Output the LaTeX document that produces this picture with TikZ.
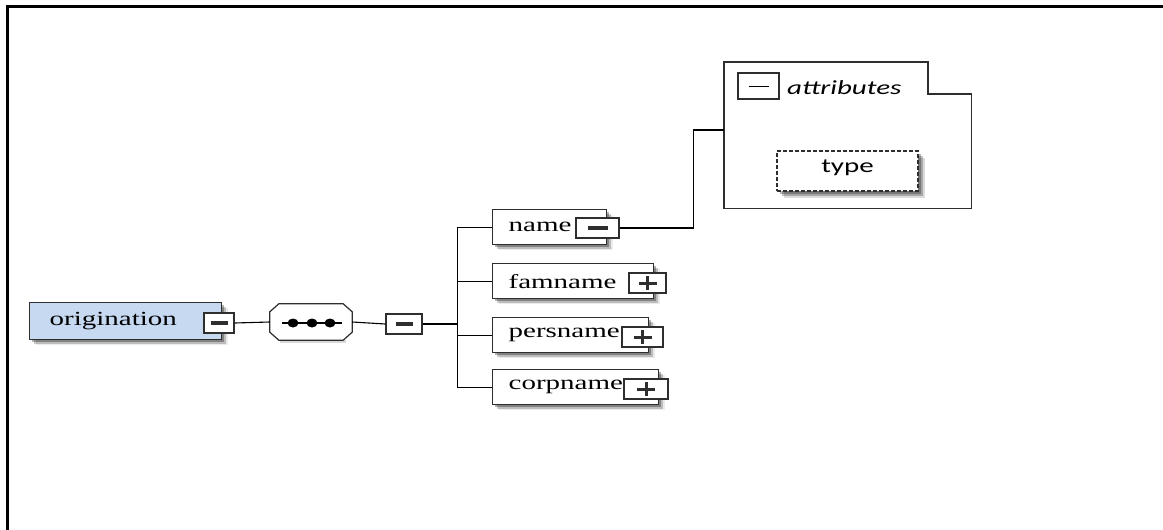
\documentclass[tikz,border=0pt]{standalone}
\usepackage{fontspec}
\setmainfont{Liberation Serif}
\newfontfamily\carlito{Carlito}
\usetikzlibrary{shadows,calc}

\definecolor{rootblue}{HTML}{C6D9F1}
\definecolor{edgegray}{HTML}{2E2E2E}

% schema labels are set slightly widened
\newcommand\wide[1]{\scalebox{1.45}[1]{#1}}

\tikzset{
  softshadow/.style={
    drop shadow={shadow xshift=2pt,shadow yshift=-2pt,opacity=.30,fill=black},
    drop shadow={shadow xshift=4pt,shadow yshift=-4pt,opacity=.20,fill=black},
    drop shadow={shadow xshift=6pt,shadow yshift=-5pt,opacity=.08,fill=black}},
  elem/.style={rectangle, draw=edgegray, line width=1.3pt, fill=white,
    anchor=north west, minimum height=35pt, inner xsep=16pt, inner ysep=0pt,
    align=left, font=\fontsize{20}{24}\selectfont, softshadow},
  ctrl/.style={rectangle, draw=edgegray, line width=1.3pt, fill=white,
    minimum height=20pt, inner sep=0pt},
  minusbox/.style={ctrl, path picture={
    \draw[line width=3.2pt]
      ([xshift=-#1]path picture bounding box.center) --
      ([xshift=#1]path picture bounding box.center);}},
  plusbox/.style={ctrl, path picture={
    \draw[line width=3pt]
      ([xshift=-9pt]path picture bounding box.center) --
      ([xshift=9pt]path picture bounding box.center)
      ([yshift=-7pt]path picture bounding box.center) --
      ([yshift=7pt]path picture bounding box.center);}},
  wire/.style={draw=black, line width=1.1pt},
  grp/.style={draw=edgegray, line width=1.2pt},
}

\begin{document}
\begin{tikzpicture}[x=1pt,y=-1pt]
\useasboundingbox (0,0) rectangle (1163,530);
\fill[white] (0,0) rectangle (1163,530);

% page frame (top and left edges)
\draw[line width=2.6pt] (7.5,530) -- (7.5,6.5) -- (1163,6.5);

% root element
\node[elem, fill=rootblue, text width=152pt, inner xsep=20pt, minimum height=37pt]
  (orig) at (29,302) {\wide{origination}};
\node[minusbox=8.5pt, minimum width=30pt] (origctl) at (219,323) {};

% sequence compositor
\node[rectangle, minimum width=82pt, minimum height=36pt, inner sep=0pt]
  (seq) at (311,322) {};
\fill[black, opacity=.15]
  ($(seq.south west)+(10,3)$) -- ($(seq.south east)+(-6,3)$) --
  ($(seq.south east)+(-6,0)$) -- ($(seq.south west)+(10,0)$) -- cycle;
\draw[grp, fill=white]
  ($(seq.north west)+(9,0)$) -- ($(seq.north east)+(-9,0)$) --
  ($(seq.north east)+(0,8)$) -- ($(seq.south east)+(0,-8)$) --
  ($(seq.south east)+(-9,0)$) -- ($(seq.south west)+(9,0)$) --
  ($(seq.south west)+(0,-8)$) -- ($(seq.north west)+(0,8)$) -- cycle;
\draw[line width=1.1pt] ($(seq.center)+(-29,1)$) -- ($(seq.center)+(31,1)$);
\foreach \dx in {-18,1,19}
  \fill ($(seq.center)+(\dx,1)$) ellipse [x radius=5.5pt, y radius=4.5pt];
\node[minusbox=8.5pt, minimum width=36pt] (seqctl) at (404,324) {};

% child elements
\node[elem, text width=82pt, minimum height=35pt] (name) at (492,209) {\wide{name}};
\node[minusbox=10pt, minimum width=43pt] (namectl) at (597.5,228) {};

\node[elem, text width=129pt] (famname) at (492,263) {\wide{famname}};
\node[plusbox, minimum width=37pt] (famctl) at (647.5,283) {};

\node[elem, text width=124pt] (persname) at (492,317) {\wide{persname}};
\node[plusbox, minimum width=41pt] (persctl) at (642.5,337) {};

\node[elem, text width=134pt] (corpname) at (492,369) {\wide{corpname}};
\node[plusbox, minimum width=44pt] (corpctl) at (646,389) {};

% attribute group
\node[rectangle, inner sep=0pt, minimum width=247pt, minimum height=146pt,
  anchor=north west] (attr) at (724,62) {};
\draw[grp]
  (attr.north west) -- ++(204,0) -- ++(0,32) --
  ($(attr.north east)+(0,32)$) -- (attr.south east) --
  (attr.south west) -- cycle;
\node[rectangle, draw=edgegray, line width=1.2pt, minimum width=41pt,
  minimum height=26pt, inner sep=0pt] (attrctl) at (758.5,86) {};
\draw[line width=0.8pt] ($(attrctl.center)+(-10,0)$) -- ($(attrctl.center)+(10,0)$);
\node[anchor=base west, inner sep=0pt, font=\carlito\itshape\fontsize{20}{24}\selectfont]
  (attrlabel) at (787,94) {\wide{attributes}};

\node[rectangle, draw=edgegray, dash pattern=on 4pt off 2pt, line width=1.1pt,
  fill=white, minimum width=141pt, minimum height=40pt, inner sep=0pt,
  text height=12pt, text depth=10pt,
  font=\carlito\fontsize{20}{24}\selectfont,
  drop shadow={shadow xshift=3pt,shadow yshift=-3pt,opacity=.28,fill=black},
  drop shadow={shadow xshift=5pt,shadow yshift=-5pt,opacity=.24,fill=black},
  drop shadow={shadow xshift=7pt,shadow yshift=-7pt,opacity=.14,fill=black}]
  (type) at (847.5,171) {\wide{type}};

% connectors
\draw[wire] (origctl.east) -- (seq.west);
\draw[wire] (seq.east) -- (seqctl.west);
\draw[wire] (seqctl.east) -- ++(35,0) coordinate (bus);
\draw[wire] (bus) |- (name.west);
\draw[wire] (bus) |- (famname.west);
\draw[wire] (bus) |- (persname.west);
\draw[wire] (bus) |- (corpname.west);
\draw[wire] (namectl.east) -- ++(74,0) coordinate (elbow)
  |- ($(attr.north west)+(0,68)$);
\end{tikzpicture}
\end{document}
